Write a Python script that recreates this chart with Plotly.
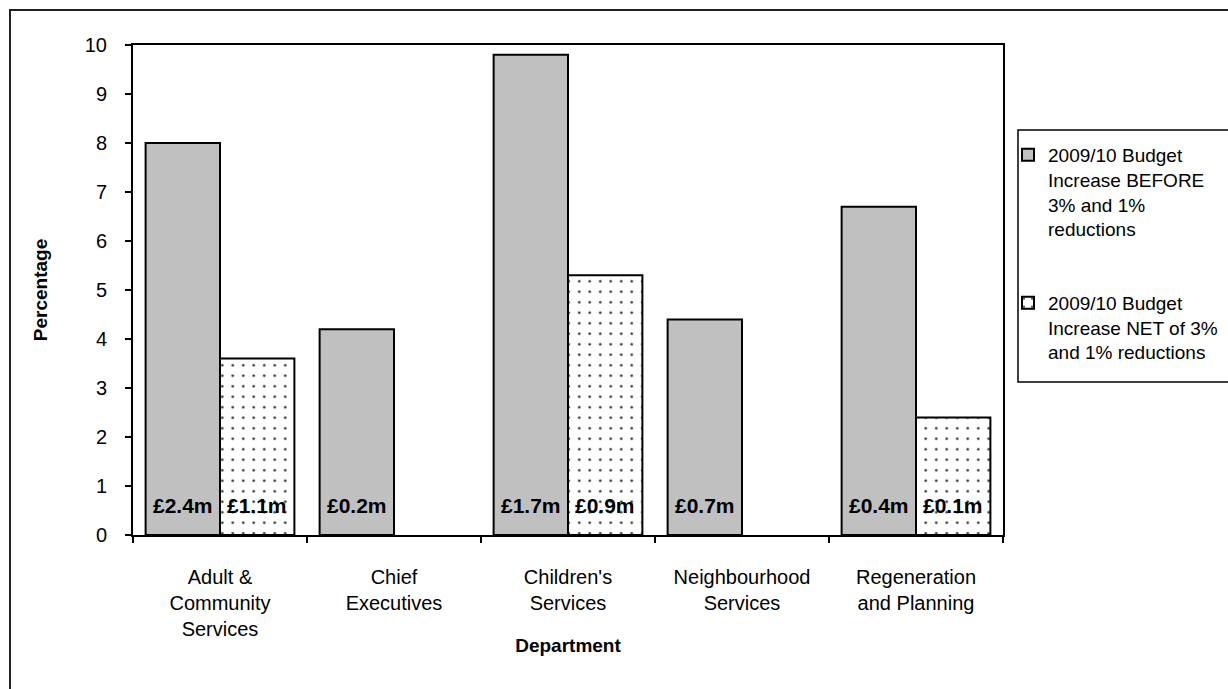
import plotly.graph_objects as go

# Departmental budget increases for 2009/10 (percent) and the cash value of each
departments = [
    "Adult &<br>Community<br>Services",
    "Chief<br>Executives",
    "Children's<br>Services",
    "Neighbourhood<br>Services",
    "Regeneration<br>and Planning",
]
before_pct = [8.0, 4.2, 9.8, 4.4, 6.7]
net_pct = [3.6, None, 5.3, None, 2.4]
before_cash = ["£2.4m", "£0.2m", "£1.7m", "£0.7m", "£0.4m"]
net_cash = ["£1.1m", None, "£0.9m", None, "£0.1m"]

series_before = "2009/10 Budget<br>Increase BEFORE<br>3% and 1%<br>reductions"
series_net = "2009/10 Budget<br>Increase NET of 3%<br>and 1% reductions"

W, H = 1228, 689
L, R, T, B = 133, 225, 45, 154
PW, PH = W - L - R, H - T - B


def px_x(x):
    return (x - L) / PW


def px_y(y):
    return (H - B - y) / PH


FONT = "Liberation Sans, Arial, sans-serif"
BARGAP = 0.145

fig = go.Figure()
fig.add_trace(go.Bar(
    x=departments, y=before_pct, name=series_before, legendgroup="a",
    marker=dict(color="#c0c0c0", line=dict(color="#000000", width=2)),
))
fig.add_trace(go.Bar(
    x=departments, y=net_pct, name=series_net, legendgroup="b",
    marker=dict(
        color="#ffffff",
        line=dict(color="#000000", width=2),
        pattern=dict(shape=".", size=10.5, solidity=0.045,
                     fgcolor="#222222", bgcolor="#ffffff", fillmode="replace"),
    ),
))

# Cash values written along the foot of each bar
half = (1 - BARGAP) / 4 * PW / len(departments)
annotations = []
for labels, shift in ((before_cash, -half), (net_cash, half)):
    for dep, lab in zip(departments, labels):
        if lab is None:
            continue
        annotations.append(dict(
            x=dep, y=0, xref="x", yref="y", text=lab, showarrow=False,
            xshift=shift, yshift=16, yanchor="bottom",
            font=dict(family=FONT, size=21, color="#000000", weight="bold"),
        ))

shapes = [
    # outer chart frame
    dict(type="rect", xref="paper", yref="paper",
         x0=px_x(10), y0=px_y(H + 20), x1=px_x(W + 20), y1=px_y(10),
         line=dict(color="#222222", width=2), fillcolor="rgba(0,0,0,0)", layer="below"),
    # legend frame
    dict(type="rect", xref="paper", yref="paper",
         x0=px_x(1018), y0=px_y(382), x1=px_x(W + 20), y1=px_y(130),
         line=dict(color="#000000", width=1.5), fillcolor="rgba(0,0,0,0)"),
]

fig.update_layout(
    width=W, height=H,
    margin=dict(l=L, r=R, t=T, b=B, autoexpand=False),
    paper_bgcolor="#ffffff", plot_bgcolor="#ffffff",
    barmode="group", bargap=BARGAP, bargroupgap=0,
    font=dict(family=FONT, size=20, color="#000000"),
    showlegend=True,
    legend=dict(
        x=px_x(1008), y=px_y(136), xanchor="left", yanchor="top",
        font=dict(family=FONT, size=19, color="#000000"),
        bgcolor="rgba(0,0,0,0)", borderwidth=0,
        traceorder="grouped", tracegroupgap=46, valign="top",
        itemwidth=30,
    ),
    annotations=annotations,
    shapes=shapes,
)

fig.update_xaxes(
    type="category", showline=True, linecolor="#000000", linewidth=2, mirror=True,
    ticks="outside", tickson="boundaries", ticklen=6, tickcolor="#000000", tickwidth=2,
    tickfont=dict(family=FONT, size=20), ticklabelstandoff=23,
    showgrid=False, zeroline=False, automargin=False,
    title=dict(text="Department", font=dict(family=FONT, size=19, weight="bold"), standoff=0),
)
fig.update_yaxes(
    range=[0, 10], dtick=1, showline=True, linecolor="#000000", linewidth=2, mirror=True,
    ticks="outside", ticklen=6, tickcolor="#000000", tickwidth=2,
    tickfont=dict(family=FONT, size=20), ticklabelstandoff=14,
    showgrid=False, zeroline=False, automargin=False,
    title=dict(text="Percentage", font=dict(family=FONT, size=19, weight="bold"), standoff=32),
)

fig.write_html("out.html")
